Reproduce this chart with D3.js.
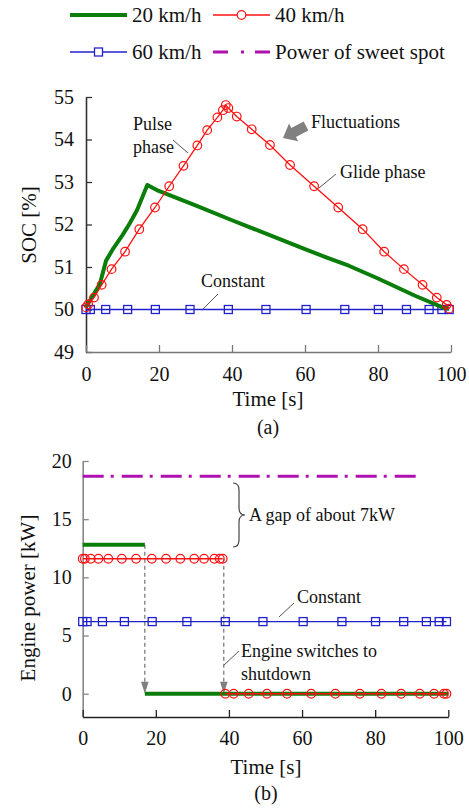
<!DOCTYPE html>
<html>
<head>
<meta charset="utf-8">
<script src="https://cdn.jsdelivr.net/npm/d3@7"></script>
<style>
  html, body { margin: 0; padding: 0; background: #fff; }
  svg { display: block; }
  svg text { font-family: "Liberation Serif", "Times New Roman", serif; }
</style>
</head>
<body>
<svg id="fig" width="469" height="808"></svg>
<script>
// ---- data ----
const seriesLabels = ["20 km/h", "40 km/h", "60 km/h", "Power of sweet spot"];
const timeTicks = [0, 20, 40, 60, 80, 100];
const socTicks = [49, 50, 51, 52, 53, 54, 55];
const powerTicks = [0, 5, 10, 15, 20];

// SOC, 20 km/h
const t20 = [0, 1, 3.8, 5.5, 7.5, 10, 12, 14, 16.8, 19.4, 30, 40, 50, 60, 66, 72, 80, 90, 98, 99.5];
const soc20 = [50.05, 50.2, 50.6, 51.15, 51.44, 51.75, 52.03, 52.34, 52.93, 52.81, 52.45, 52.1, 51.76, 51.42, 51.22, 51.03, 50.73, 50.33, 50.04, 50.02];

// SOC and power, 40 km/h
const t40 = [0, 0.6, 2.2, 4.3, 7.0, 10.7, 14.6, 18.9, 22.8, 26.7, 30.5, 33.2, 36.0, 37.5, 38.3, 39.0, 41.3, 45.4, 50.4, 55.9, 62.5, 69.1, 75.8, 81.7, 87.1, 92.2, 96.1, 98.8, 99.5];
const soc40 = [50.05, 50.12, 50.28, 50.58, 50.95, 51.36, 51.89, 52.40, 52.90, 53.38, 53.86, 54.22, 54.52, 54.69, 54.81, 54.74, 54.54, 54.24, 53.87, 53.40, 52.90, 52.40, 51.89, 51.36, 50.95, 50.58, 50.28, 50.11, 50.02];
const p40 = [11.6, 11.6, 11.6, 11.6, 11.6, 11.6, 11.6, 11.6, 11.6, 11.6, 11.6, 11.6, 11.6, 11.6, 11.6, 0, 0, 0, 0, 0, 0, 0, 0, 0, 0, 0, 0, 0, 0];

// SOC and power, 60 km/h
const t60 = [0, 1.2, 5.4, 11.4, 19.0, 28.5, 39.0, 49.3, 60.3, 70.9, 80.1, 87.8, 94.0, 97.5, 99.5];
const soc60 = [50, 50, 50, 50, 50, 50, 50, 50, 50, 50, 50, 50, 50, 50, 50];
const p60 = [6.2, 6.2, 6.2, 6.2, 6.2, 6.2, 6.2, 6.2, 6.2, 6.2, 6.2, 6.2, 6.2, 6.2, 6.2];

// power, 20 km/h
const t20p = [0, 17.0, 17.0, 100];
const p20 = [12.8, 12.8, 0, 0];

// sweet-spot power
const tSweet = [0, 93];
const pSweet = [18.7, 18.7];

// engine shutdown instants (20 km/h, 40 km/h) and power before shutdown
const tOff = [17.0, 38.6];
const pOn = [12.8, 11.6];

// ---- styles ----
const FONT = '"Liberation Serif", "Times New Roman", serif';
const C = { g: "#0a7d0a", r: "#ff1010", b: "#2222cc", m: "#b010b0", txt: "#111", ann: "#555" };
const svg = d3.select("#fig");

function pts(ts, vs) { return ts.map((t, i) => [t, vs[i]]); }
// split a step series into runs of equal value (no vertical joins)
function runs(ts, vs) {
  const out = []; let cur = [];
  ts.forEach((t, i) => {
    if (cur.length && cur[cur.length - 1][1] !== vs[i]) { out.push(cur); cur = []; }
    cur.push([t, vs[i]]);
  });
  if (cur.length) out.push(cur);
  return out;
}

function drawAxes(g, x, y, xTicks, yTicks, yLabelPad, xLabelPad, yColor, xColor) {
  const ya = g.append("g").attr("transform", `translate(${x.range()[0]},0)`)
    .call(d3.axisLeft(y).tickValues(yTicks).tickSizeInner(-6).tickSizeOuter(0).tickPadding(yLabelPad).tickFormat(d3.format("d")));
  ya.attr("font-family", FONT);
  ya.select(".domain").attr("stroke", yColor).attr("stroke-width", 1.6);
  ya.selectAll(".tick line").attr("stroke", yColor).attr("stroke-width", 1.3);
  ya.selectAll("text").attr("font-size", 20).attr("fill", C.txt).attr("font-family", FONT);
  const xa = g.append("g").attr("transform", `translate(0,${y.range()[0]})`)
    .call(d3.axisBottom(x).tickValues(xTicks).tickSizeInner(-7).tickSizeOuter(0).tickPadding(xLabelPad));
  xa.attr("font-family", FONT);
  xa.select(".domain").attr("stroke", xColor).attr("stroke-width", 1.6);
  xa.selectAll(".tick line").attr("stroke", xColor).attr("stroke-width", 1.3);
  xa.selectAll("text").attr("font-size", 20).attr("fill", C.txt).attr("font-family", FONT);
}

function circles(g, data, x, y) {
  g.selectAll(null).data(data).join("circle")
    .attr("cx", d => x(d[0])).attr("cy", d => y(d[1])).attr("r", 4.3)
    .attr("fill", "none").attr("stroke", C.r).attr("stroke-width", 1.2);
}
function squares(g, data, x, y) {
  const s = 8;
  g.selectAll(null).data(data).join("rect")
    .attr("x", d => x(d[0]) - s / 2).attr("y", d => y(d[1]) - s / 2).attr("width", s).attr("height", s)
    .attr("fill", "none").attr("stroke", C.b).attr("stroke-width", 1.3);
}
function leader(g, x1, y1, x2, y2) {
  g.append("line").attr("x1", x1).attr("y1", y1).attr("x2", x2).attr("y2", y2)
    .attr("stroke", C.ann).attr("stroke-width", 1);
}
function label(g, txt, x, y, size, anchor) {
  return g.append("text").attr("x", x).attr("y", y).attr("font-size", size).attr("font-family", FONT)
    .attr("fill", C.txt).attr("text-anchor", anchor || "start").attr("dy", "0.35em").text(txt);
}

// ---- legend ----
const lg = svg.append("g");
const legendRows = [
  { x: 70, y: 15, i: 0 }, { x: 213, y: 15, i: 1 },
  { x: 70, y: 52, i: 2 }, { x: 213, y: 52, i: 3 }
];
legendRows.forEach(r => {
  const x1 = r.x, x2 = r.x + 57, cx = (x1 + x2) / 2;
  const ln = lg.append("line").attr("x1", x1).attr("x2", x2).attr("y1", r.y).attr("y2", r.y);
  if (r.i === 0) ln.attr("stroke", C.g).attr("stroke-width", 4);
  if (r.i === 1) {
    ln.attr("stroke", C.r).attr("stroke-width", 1.3);
    lg.append("circle").attr("cx", cx).attr("cy", r.y).attr("r", 4.3).attr("fill", "#fff").attr("stroke", C.r).attr("stroke-width", 1.2);
  }
  if (r.i === 2) {
    ln.attr("stroke", C.b).attr("stroke-width", 1.3);
    lg.append("rect").attr("x", cx - 4).attr("y", r.y - 4).attr("width", 8).attr("height", 8).attr("fill", "#fff").attr("stroke", C.b).attr("stroke-width", 1.3);
  }
  if (r.i === 3) ln.attr("stroke", C.m).attr("stroke-width", 3).attr("stroke-dasharray", "15,13,3,11,15");
  label(lg, seriesLabels[r.i], x2 + 5, r.y, 21);
});

// ---- (a) SOC ----
const xa = d3.scaleLinear().domain([0, 100]).range([86, 451]);
const ya = d3.scaleLinear().domain([49, 55]).range([352, 97]);
const ga = svg.append("g");
drawAxes(ga, xa, ya, timeTicks, socTicks, 12, 15, "#333", "#777");

const lineA = d3.line().x(d => xa(d[0])).y(d => ya(d[1]));
ga.append("path").attr("d", lineA(pts(t60, soc60))).attr("fill", "none").attr("stroke", C.b).attr("stroke-width", 1.4);
squares(ga, pts(t60, soc60), xa, ya);
ga.append("path").attr("d", lineA(pts(t20, soc20))).attr("fill", "none").attr("stroke", C.g).attr("stroke-width", 4).attr("stroke-linejoin", "round");
ga.append("path").attr("d", lineA(pts(t40, soc40))).attr("fill", "none").attr("stroke", C.r).attr("stroke-width", 1.3);
circles(ga, pts(t40, soc40), xa, ya);

// annotations (a)
label(ga, "Pulse", 133, 124, 18);
label(ga, "phase", 133, 147, 18);
leader(ga, 173, 140, 188, 153);
label(ga, "Fluctuations", 311, 122, 18);
label(ga, "Glide phase", 340, 172, 18);
leader(ga, 336, 174, 319, 188);
label(ga, "Constant", 201, 281, 18);
leader(ga, 218, 294, 203, 309);

// fat arrow pointing at the peak region
(function () {
  const tail = [306, 126], tip = [283, 138];
  const dx = tip[0] - tail[0], dy = tip[1] - tail[1];
  const L = Math.hypot(dx, dy), ux = dx / L, uy = dy / L, nx = -uy, ny = ux;
  const hl = 12, hw = 10, sw = 5;
  const b = [tip[0] - ux * hl, tip[1] - uy * hl];
  const p = [
    [tail[0] + nx * sw, tail[1] + ny * sw], [b[0] + nx * sw, b[1] + ny * sw], [b[0] + nx * hw, b[1] + ny * hw],
    tip, [b[0] - nx * hw, b[1] - ny * hw], [b[0] - nx * sw, b[1] - ny * sw], [tail[0] - nx * sw, tail[1] - ny * sw]
  ];
  ga.append("polygon").attr("points", p.map(q => q.join(",")).join(" ")).attr("fill", "#808080");
})();

ga.append("text").attr("transform", "translate(29,225) rotate(-90)").attr("text-anchor", "middle").attr("font-family", FONT)
  .attr("dy", "0.35em").attr("font-size", 21).attr("fill", C.txt).text("SOC [%]");
label(ga, "Time [s]", 268, 399, 21, "middle");
label(ga, "(a)", 268, 427, 20, "middle");

// ---- (b) Engine power ----
const xb = d3.scaleLinear().domain([0, 100]).range([82.7, 448.3]);
const yb = d3.scaleLinear().domain([-2, 20]).range([717, 461]);
const gb = svg.append("g");
drawAxes(gb, xb, yb, timeTicks, powerTicks, 11, 14, "#888", "#222");

const lineB = d3.line().x(d => xb(d[0])).y(d => yb(d[1]));
gb.append("path").attr("d", lineB(pts(tSweet, pSweet))).attr("fill", "none").attr("stroke", C.m)
  .attr("stroke-width", 3).attr("stroke-dasharray", "21,7,3,8");

// shutdown markers: dashed drop lines with arrowheads
tOff.forEach((t, i) => {
  const x = xb(t);
  gb.append("line").attr("x1", x).attr("x2", x).attr("y1", yb(pOn[i])).attr("y2", yb(0) - 10)
    .attr("stroke", "#555").attr("stroke-width", 1).attr("stroke-dasharray", "4,3");
  gb.append("path").attr("d", `M${x - 3.8},${yb(0) - 12} L${x + 3.8},${yb(0) - 12} L${x},${yb(0)} Z`).attr("fill", "#808080");
});

gb.append("path").attr("d", lineB(pts(t60, p60))).attr("fill", "none").attr("stroke", C.b).attr("stroke-width", 1.4);
squares(gb, pts(t60, p60), xb, yb);
runs(t20p, p20).forEach(seg => {
  gb.append("path").attr("d", lineB(seg)).attr("fill", "none").attr("stroke", C.g).attr("stroke-width", 4);
});
runs(t40, p40).forEach(seg => {
  gb.append("path").attr("d", lineB(seg)).attr("fill", "none").attr("stroke", C.r).attr("stroke-width", 1.3);
});
circles(gb, pts(t40, p40), xb, yb);

// annotations (b)
gb.append("path").attr("d", "M233,483 Q239,483 239,490 L239,508 Q239,515 245,515 Q239,515 239,522 L239,540 Q239,547 233,547")
  .attr("fill", "none").attr("stroke", "#444").attr("stroke-width", 1.2);
label(gb, "A gap of about 7kW", 249, 515, 18);
label(gb, "Constant", 297, 597, 18);
leader(gb, 294, 603, 279, 617);
label(gb, "Engine switches to", 241, 651, 18);
label(gb, "shutdown", 241, 674, 18);
leader(gb, 239, 651, 224, 665);

gb.append("text").attr("transform", "translate(28,598) rotate(-90)").attr("text-anchor", "middle").attr("font-family", FONT)
  .attr("dy", "0.35em").attr("font-size", 21).attr("fill", C.txt).text("Engine power [kW]");
label(gb, "Time [s]", 266, 767, 21, "middle");
label(gb, "(b)", 266, 793, 20, "middle");
</script>
</body>
</html>
